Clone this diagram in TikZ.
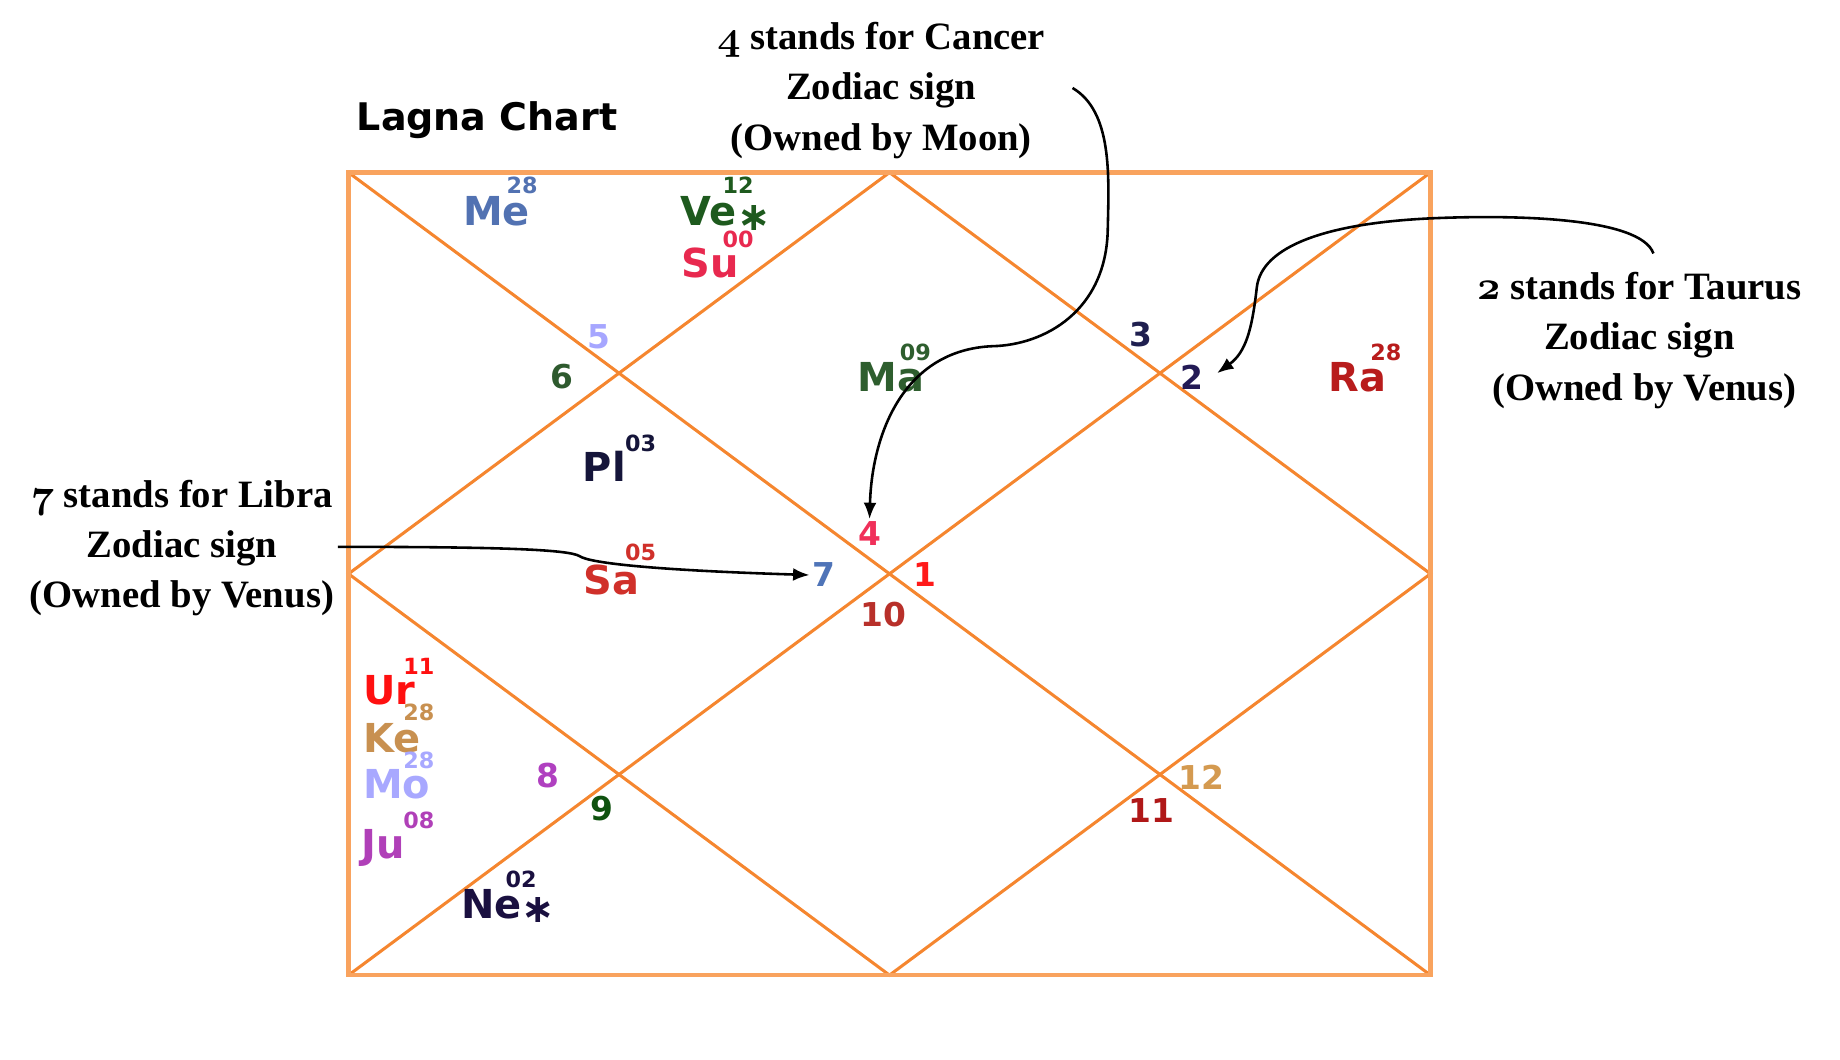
\documentclass[tikz,border=0pt]{standalone}
\usepackage{fontspec}
\setmainfont{Liberation Serif}
\newfontfamily\chartfont{DejaVu Sans}
\usetikzlibrary{arrows.meta}
\definecolor{chartorange}{HTML}{F5862F}
\definecolor{chartpeach}{HTML}{F9A35E}
\definecolor{cMe}{HTML}{5272B2}
\definecolor{cVe}{HTML}{1E5A1E}
\definecolor{cSu}{HTML}{E8294F}
\definecolor{cMa}{HTML}{2E5E2E}
\definecolor{cPl}{HTML}{15153A}
\definecolor{cSa}{HTML}{D0302A}
\definecolor{cRa}{HTML}{B81C1C}
\definecolor{cUr}{HTML}{FF1010}
\definecolor{cKe}{HTML}{C89050}
\definecolor{cMo}{HTML}{A8A8FF}
\definecolor{cJu}{HTML}{B040B8}
\definecolor{cNe}{HTML}{1A1040}
\definecolor{hFive}{HTML}{A6A6FF}
\definecolor{hSix}{HTML}{2E5A2E}
\definecolor{hThree}{HTML}{1F1F4F}
\definecolor{hTwo}{HTML}{231A55}
\definecolor{hFour}{HTML}{F0305A}
\definecolor{hSeven}{HTML}{4F74B8}
\definecolor{hOne}{HTML}{FF1A1A}
\definecolor{hTen}{HTML}{B8302A}
\definecolor{hEight}{HTML}{B040C0}
\definecolor{hNine}{HTML}{0F520F}
\definecolor{hTwelve}{HTML}{D49A50}
\definecolor{hEleven}{HTML}{B01818}
% old style figures for the notes
\newcommand\osnum[1]{{\usefont{OML}{cmm}{b}{it}#1}}

\begin{document}
\begin{tikzpicture}[x=0.5pt, y=-0.5pt,
  border/.style={draw=chartpeach, line width=1.8pt},
  chartline/.style={draw=chartorange, line width=1.3pt},
  house/.style={font=\chartfont\bfseries\fontsize{14}{16}\selectfont, inner sep=1pt, text height=10.2pt, text depth=0pt},
  planet/.style={font=\chartfont\bfseries\fontsize{17}{19}\selectfont, inner sep=0pt, text height=12.4pt, text depth=0pt},
  degree/.style={font=\chartfont\bfseries\fontsize{9.5}{10}\selectfont, inner sep=0pt, text height=6.9pt, text depth=0pt},
  note/.style={font=\bfseries\fontsize{16.5}{21.5}\selectfont, align=center, inner sep=0pt},
  pointer/.style={-{Latex[length=7pt,width=5.5pt]}, line width=1.1pt}]
\useasboundingbox (0,0) rectangle (1568,903);

% chart frame
\coordinate (nw) at (297,147);
\coordinate (ne) at (1219,147);
\coordinate (sw) at (297,831);
\coordinate (se) at (1219,831);
\draw[chartline] (nw) -- (se);
\draw[chartline] (ne) -- (sw);
\draw[chartline] (758,147) -- (1219,489) -- (758,831) -- (297,489) -- cycle;
\draw[border] (nw) rectangle (se);

\node[anchor=west, font=\chartfont\bfseries\fontsize{16.2}{19}\selectfont] (title) at (297,102) {Lagna Chart};

% house numbers
\node[house, text=hOne]    (h1)  at (788,490) {1};
\node[house, text=hTwo]    (h2)  at (1016,322) {2};
\node[house, text=hThree]  (h3)  at (972,285) {3};
\node[house, text=hFour]   (h4)  at (741,455) {4};
\node[house, text=hFive]   (h5)  at (510,287) {5};
\node[house, text=hSix]    (h6)  at (479,321) {6};
\node[house, text=hSeven]  (h7)  at (702,490) {7};
\node[house, text=hEight]  (h8)  at (467,661) {8};
\node[house, text=hNine]   (h9)  at (513,689) {9};
\node[house, text=hTen]    (h10) at (753,524) {10};
\node[house, text=hEleven] (h11) at (981,691) {11};
\node[house, text=hTwelve] (h12) at (1024,663) {12};

% planets with degrees
\node[planet, text=cMe] (me) at (423,180) {Me};
\node[degree, text=cMe] (me-deg) at (445,158) {28};
\node[planet, text=cVe] (ve) at (604,180) {Ve};
\node[planet, text=cVe] (ve-star) at (643,184) {∗};
\node[degree, text=cVe] (ve-deg) at (629,158) {12};
\node[planet, text=cSu] (su) at (605,224) {Su};
\node[degree, text=cSu] (su-deg) at (629,204) {00};
\node[planet, text=cMa] (ma) at (759,321) {Ma};
\node[degree, text=cMa] (ma-deg) at (780,300) {09};
\node[planet, text=cPl] (pl) at (515,398) {Pl};
\node[degree, text=cPl] (pl-deg) at (546,378) {03};
\node[planet, text=cSa] (sa) at (521,494) {Sa};
\node[degree, text=cSa] (sa-deg) at (546,471) {05};
\node[planet, text=cRa] (ra) at (1157,321) {Ra};
\node[degree, text=cRa] (ra-deg) at (1181,300) {28};
\node[planet, text=cUr, anchor=west] (ur) at (309,588) {Ur};
\node[degree, text=cUr] (ur-deg) at (357,568) {11};
\node[planet, text=cKe, anchor=west] (ke) at (309,629) {Ke};
\node[degree, text=cKe] (ke-deg) at (357,607) {28};
\node[planet, text=cMo, anchor=west] (mo) at (309,668) {Mo};
\node[degree, text=cMo] (mo-deg) at (357,648) {28};
\node[planet, text=cJu, anchor=west] (ju) at (308,719) {Ju};
\node[degree, text=cJu] (ju-deg) at (357,699) {08};
\node[planet, text=cNe] (ne) at (419,770) {Ne};
\node[planet, text=cNe] (ne-star) at (459,774) {∗};
\node[degree, text=cNe] (ne-deg) at (444,749) {02};

% notes
\node[note] (cancer) at (751,77) {\osnum{4} stands for Cancer\\Zodiac sign\\(Owned by Moon)};
\node[note] (taurus) at (1397,290) {\osnum{2} stands for Taurus\\Zodiac sign\\\ (Owned by Venus)};
\node[note] (libra) at (155,467) {\osnum{7} stands for Libra\\Zodiac sign\\(Owned by Venus)};

\coordinate (cancer-tail) at (914,75);
\coordinate (taurus-tail) at (1409,216);
\coordinate (libra-tail) at (288,466);
\draw[pointer] (cancer-tail) .. controls (948,95) and (945,150) .. (944,195)
  .. controls (943,265) and (890,294) .. (846,295)
  .. controls (770,298) and (743,370) .. (h4.north);
\draw[pointer] (taurus-tail) .. controls (1398,185) and (1290,183) .. (1221,186)
  .. controls (1130,190) and (1075,210) .. (1071,245)
  .. controls (1067,280) and (1062,300) .. ([shift={(9,-4)}]h2.east);
\draw[pointer] (libra-tail) .. controls (420,466) and (485,468) .. (494,474)
  .. controls (503,480) and (560,486) .. (h7.west);
\end{tikzpicture}
\end{document}
